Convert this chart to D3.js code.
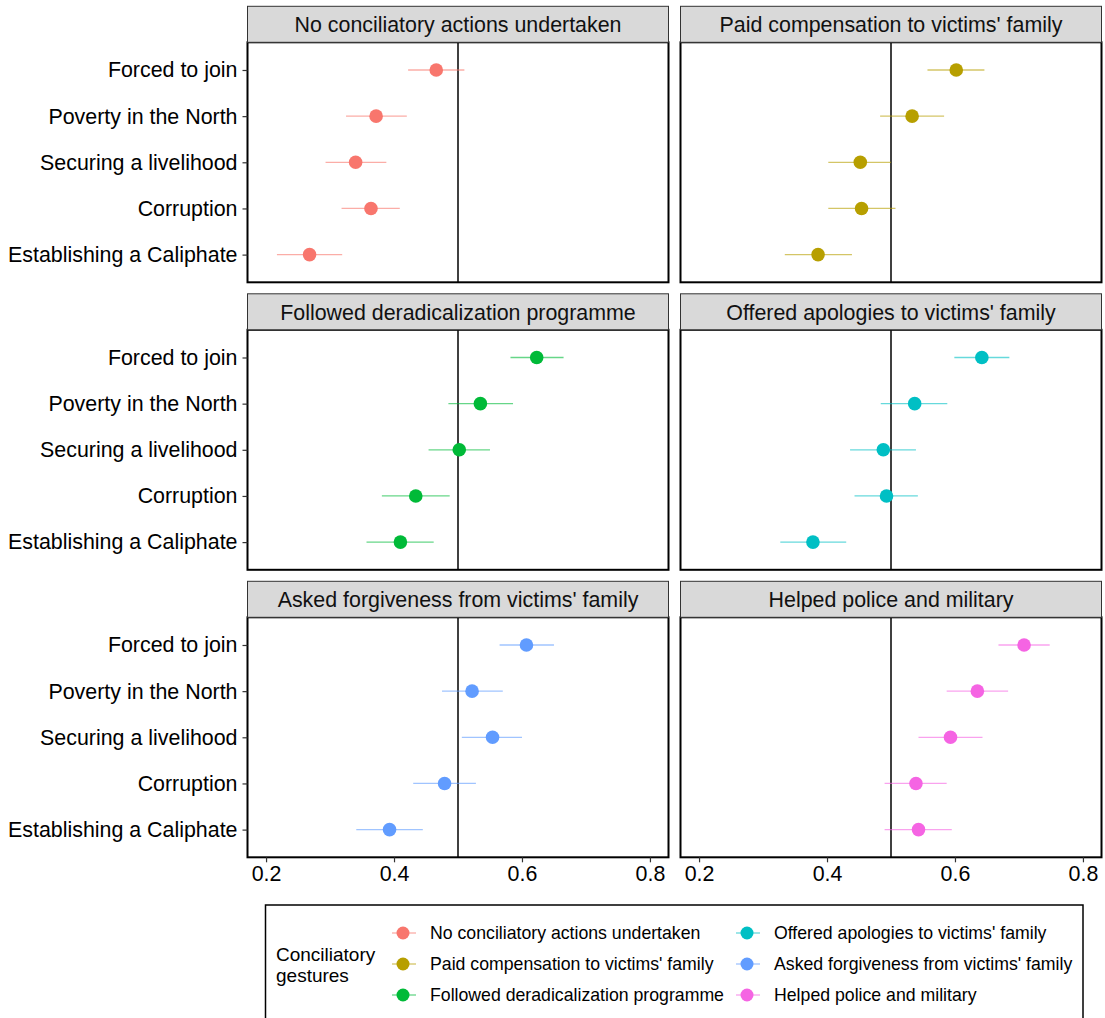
<!DOCTYPE html>
<html>
<head>
<meta charset="utf-8">
<script src="https://cdn.jsdelivr.net/npm/d3@7"></script>
<style>
  body { margin: 0; background: #fff; }
  text { font-family: "Liberation Sans", Arial, sans-serif; }
</style>
</head>
<body>
<div id="chart"></div>
<script>
// reasons, top to bottom
var reasons = ["Forced to join", "Poverty in the North", "Securing a livelihood", "Corruption", "Establishing a Caliphate"];

var gestures = [
    "No conciliatory actions undertaken",
    "Paid compensation to victims' family",
    "Followed deradicalization programme",
    "Offered apologies to victims' family",
    "Asked forgiveness from victims' family",
    "Helped police and military"
];

var colors = ["#F8766D", "#B79F00", "#00BA38", "#00BFC4", "#619CFF", "#F564E3"];

// estimates per gesture, in the order of reasons
var estimate = [
    [0.466, 0.372, 0.340, 0.364, 0.268],
    [0.602, 0.533, 0.452, 0.454, 0.386],
    [0.623, 0.535, 0.502, 0.434, 0.410],
    [0.642, 0.537, 0.488, 0.493, 0.378],
    [0.607, 0.522, 0.554, 0.479, 0.393],
    [0.708, 0.635, 0.593, 0.539, 0.543]
];
var lower = [
    [0.422, 0.325, 0.293, 0.318, 0.217],
    [0.557, 0.483, 0.402, 0.402, 0.334],
    [0.582, 0.485, 0.454, 0.381, 0.357],
    [0.599, 0.484, 0.436, 0.443, 0.327],
    [0.565, 0.475, 0.506, 0.430, 0.341],
    [0.668, 0.587, 0.543, 0.490, 0.490]
];
var upper = [
    [0.510, 0.420, 0.388, 0.409, 0.319],
    [0.646, 0.583, 0.500, 0.507, 0.439],
    [0.665, 0.586, 0.550, 0.487, 0.462],
    [0.685, 0.588, 0.539, 0.542, 0.430],
    [0.650, 0.570, 0.600, 0.528, 0.445],
    [0.748, 0.683, 0.643, 0.587, 0.595]
];

var xTicks = [0.2, 0.4, 0.6, 0.8];

var W = 1105, H = 1018;
var panelW = 421, panelH = 240, stripH = 36;
var colX = [247.5, 680.5];
var rowY = [6.3, 293.8, 581.3]; // strip tops

var x = d3.scaleLinear().domain([0.171, 0.829]).range([0, panelW]);
var y = d3.scalePoint().domain(reasons).range([0, panelH]).padding(0.6);

var svg = d3.select("#chart").append("svg")
    .attr("width", W)
    .attr("height", H);

svg.append("rect").attr("width", W).attr("height", H).attr("fill", "#fff");

gestures.forEach(function (g, gi) {
    var col = gi % 2, row = Math.floor(gi / 2);
    var px = colX[col], sy = rowY[row], py = sy + stripH;

    var panel = svg.append("g").attr("transform", "translate(" + px + "," + py + ")");

    // strip
    svg.append("rect")
        .attr("x", px).attr("y", sy)
        .attr("width", panelW).attr("height", stripH)
        .attr("fill", "#D9D9D9")
        .attr("stroke", "#333")
        .attr("stroke-width", 1);
    svg.append("text")
        .attr("x", px + panelW / 2).attr("y", sy + stripH / 2 + 1)
        .attr("text-anchor", "middle")
        .attr("dominant-baseline", "central")
        .attr("font-size", 21.4)
        .attr("fill", "#111")
        .text(g);

    // reference line
    panel.append("line")
        .attr("x1", x(0.5)).attr("x2", x(0.5))
        .attr("y1", 0).attr("y2", panelH)
        .attr("stroke", "#000").attr("stroke-width", 1.5);

    var rows = reasons.map(function (r, i) {
        return { reason: r, est: estimate[gi][i], lo: lower[gi][i], hi: upper[gi][i] };
    });

    panel.selectAll(".ci")
        .data(rows)
        .join("line")
        .attr("x1", d => x(d.lo)).attr("x2", d => x(d.hi))
        .attr("y1", d => y(d.reason)).attr("y2", d => y(d.reason))
        .attr("stroke", colors[gi])
        .attr("stroke-opacity", 0.6)
        .attr("stroke-width", 1.3);

    panel.selectAll(".pt")
        .data(rows)
        .join("circle")
        .attr("cx", d => x(d.est))
        .attr("cy", d => y(d.reason))
        .attr("r", 6.8)
        .attr("fill", colors[gi]);

    // border
    panel.append("rect")
        .attr("width", panelW).attr("height", panelH)
        .attr("fill", "none")
        .attr("stroke", "#000")
        .attr("stroke-width", 2);

    // y axis on left column
    if (col === 0) {
        var ya = panel.append("g").call(d3.axisLeft(y).tickSize(5).tickPadding(5));
        ya.select(".domain").remove();
        ya.selectAll("line").attr("stroke", "#333").attr("stroke-width", 1.2);
        ya.selectAll("text").attr("font-size", 21.4).attr("fill", "#000")
            .attr("font-family", "Liberation Sans, Arial, sans-serif");
    }
    // x axis on bottom row
    if (row === 2) {
        var xa = panel.append("g")
            .attr("transform", "translate(0," + panelH + ")")
            .call(d3.axisBottom(x).tickValues(xTicks).tickFormat(d3.format(".1f")).tickSize(5).tickPadding(4));
        xa.select(".domain").remove();
        xa.selectAll("line").attr("stroke", "#333").attr("stroke-width", 1.2);
        xa.selectAll("text").attr("font-size", 21.4).attr("fill", "#000")
            .attr("font-family", "Liberation Sans, Arial, sans-serif");
    }
});

// legend
var lg = svg.append("g");
lg.append("rect")
    .attr("x", 265.5).attr("y", 905)
    .attr("width", 817.5).attr("height", 130)
    .attr("fill", "#fff")
    .attr("stroke", "#000")
    .attr("stroke-width", 1.5);

lg.append("text")
    .attr("x", 276).attr("y", 961)
    .attr("font-size", 19)
    .selectAll("tspan")
    .data(["Conciliatory", "gestures"])
    .join("tspan")
    .attr("x", 276)
    .attr("dy", (d, i) => i === 0 ? 0 : 21)
    .text(d => d);

var keyX = [403, 747], labelX = [430, 774], keyY = [933, 964, 995];

var items = lg.selectAll(".item")
    .data(gestures)
    .join("g")
    .attr("transform", (d, i) => "translate(0," + keyY[i % 3] + ")");

items.append("line")
    .attr("x1", (d, i) => keyX[Math.floor(i / 3)] - 11)
    .attr("x2", (d, i) => keyX[Math.floor(i / 3)] + 13)
    .attr("stroke", (d, i) => colors[i])
    .attr("stroke-opacity", 0.6)
    .attr("stroke-width", 1.3);

items.append("circle")
    .attr("cx", (d, i) => keyX[Math.floor(i / 3)])
    .attr("r", 6.5)
    .attr("fill", (d, i) => colors[i]);

items.append("text")
    .attr("x", (d, i) => labelX[Math.floor(i / 3)])
    .attr("dominant-baseline", "central")
    .attr("font-size", 17.7)
    .text(d => d);
</script>
</body>
</html>
